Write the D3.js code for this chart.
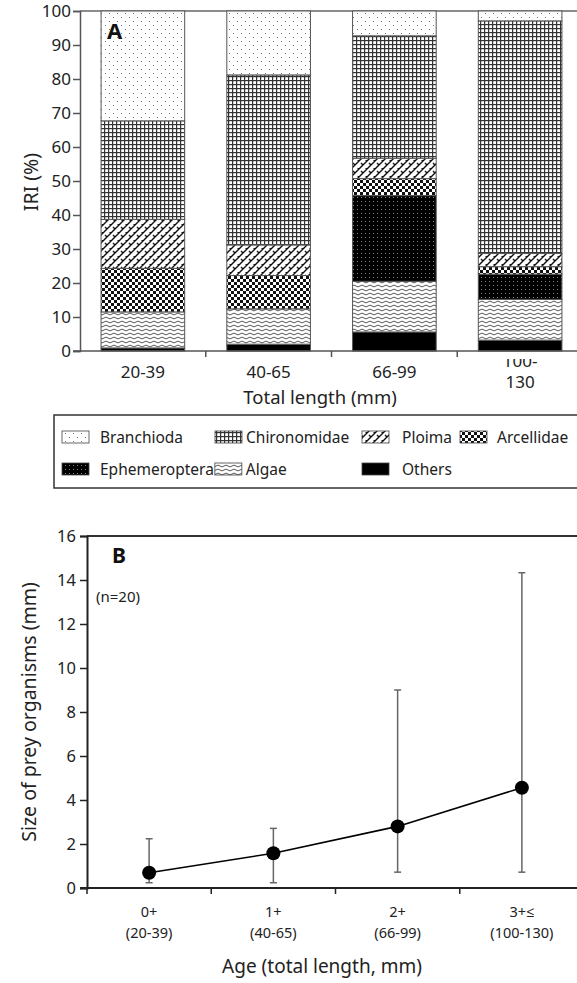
<!DOCTYPE html>
<html>
<head>
<meta charset="utf-8">
<script src="https://cdn.jsdelivr.net/npm/d3@7"></script>
<style>
  body { margin: 0; background: #fff; }
  svg { font-family: "Noto Sans", "Open Sans", sans-serif; }
</style>
</head>
<body>
<svg id="chart" width="577" height="983"></svg>
<script>
// --- data, panel A (IRI %, stacked from the bottom) ---
var lengthGroups = ["20-39", "40-65", "66-99", "100-130"];
var preyNames = ["Others", "Algae", "Ephemeroptera", "Arcellidae", "Ploima", "Chironomidae", "Branchioda"];
var others        = [0.9, 2.0, 5.6, 3.2];
var algae         = [10.6, 10.4, 14.9, 12.0];
var ephemeroptera = [0, 0, 25.2, 7.4];
var arcellidae    = [12.8, 9.8, 5.0, 2.2];
var ploima        = [14.4, 9.0, 6.0, 3.9];
var chironomidae  = [29.0, 50.0, 36.0, 68.4];
var branchioda    = [32.3, 18.8, 7.3, 2.9];
var iriTicks = [0, 10, 20, 30, 40, 50, 60, 70, 80, 90, 100];

// --- data, panel B (prey size by age) ---
var ageGroups = ["0+", "1+", "2+", "3+\u2264"];
var ageLengths = ["(20-39)", "(40-65)", "(66-99)", "(100-130)"];
var preySize = [0.69, 1.58, 2.80, 4.56];
var preySizeLow = [0.24, 0.24, 0.72, 0.72];
var preySizeHigh = [2.24, 2.71, 9.0, 14.33];
var sizeTicks = [0, 2, 4, 6, 8, 10, 12, 14, 16];

// legend rows as in the figure
var legendRow1 = ["Branchioda", "Chironomidae", "Ploima", "Arcellidae"];
var legendRow2 = ["Ephemeroptera", "Algae", "Others"];

var svg = d3.select("#chart");
var defs = svg.append("defs");

// ---------- fill patterns ----------
function pat(id, w, h) {
  var p = defs.append("pattern").attr("id", id).attr("patternUnits", "userSpaceOnUse")
    .attr("width", w).attr("height", h);
  return p;
}
var p;
p = pat("p-Branchioda", 8, 8);
p.append("rect").attr("width", 8).attr("height", 8).attr("fill", "#fff");
p.append("rect").attr("x", 1).attr("y", 1).attr("width", 1).attr("height", 1).attr("fill", "#777");
p.append("rect").attr("x", 5).attr("y", 5).attr("width", 1).attr("height", 1).attr("fill", "#777");

p = pat("p-Chironomidae", 4, 4);
p.append("rect").attr("width", 4).attr("height", 4).attr("fill", "#fff");
p.append("rect").attr("width", 4).attr("height", 1.2).attr("fill", "#333");
p.append("rect").attr("width", 1.2).attr("height", 4).attr("fill", "#333");

p = pat("p-Ploima", 8, 8);
p.append("rect").attr("width", 8).attr("height", 8).attr("fill", "#fff");
p.append("path").attr("d", "M0,8 L8,0 M-2,2 L2,-2 M6,10 L10,6 M1,3 L3,5 M5,-1 L7,1")
  .attr("stroke", "#111").attr("stroke-width", 1.4).attr("fill", "none");

p = pat("p-Arcellidae", 6, 6);
p.append("rect").attr("width", 6).attr("height", 6).attr("fill", "#fff");
p.append("rect").attr("width", 3).attr("height", 3).attr("fill", "#111");
p.append("rect").attr("x", 3).attr("y", 3).attr("width", 3).attr("height", 3).attr("fill", "#111");

p = pat("p-Ephemeroptera", 4, 4);
p.append("rect").attr("width", 4).attr("height", 4).attr("fill", "#000");
p.append("rect").attr("x", 1).attr("y", 1).attr("width", 1).attr("height", 1).attr("fill", "#888");

p = pat("p-Algae", 8, 4);
p.append("rect").attr("width", 8).attr("height", 4).attr("fill", "#fff");
p.append("path").attr("d", "M0,2 Q2,0.2 4,2 T8,2")
  .attr("stroke", "#444").attr("stroke-width", 0.9).attr("fill", "none");

p = pat("p-Others", 4, 4);
p.append("rect").attr("width", 4).attr("height", 4).attr("fill", "#000");

// ================= PANEL A =================
var seriesByName = {
  Others: others, Algae: algae, Ephemeroptera: ephemeroptera, Arcellidae: arcellidae,
  Ploima: ploima, Chironomidae: chironomidae, Branchioda: branchioda
};
var tableA = lengthGroups.map(function(g, i) {
  var row = { group: g };
  preyNames.forEach(function(n) { row[n] = seriesByName[n][i]; });
  return row;
});
var stackA = d3.stack().keys(preyNames)(tableA);

var xA = d3.scaleBand().domain(lengthGroups).range([80, 583]).paddingInner(0.335).paddingOuter(0.1675);
var xAedge = d3.scaleBand().domain(lengthGroups).range([80, 583]);
var yA = d3.scaleLinear().domain([0, 100]).range([351, 11]);

var gA = svg.append("g");

// frame top line
gA.append("line").attr("x1", 80).attr("x2", 577).attr("y1", yA(100)).attr("y2", yA(100))
  .attr("stroke", "#666").attr("stroke-width", 1.5);

gA.selectAll("g.layer").data(stackA).enter().append("g").attr("class", "layer")
  .attr("fill", function(d) { return "url(#p-" + d.key + ")"; })
  .selectAll("rect").data(function(d) { return d; }).enter().append("rect")
  .attr("x", function(d) { return xA(d.data.group); })
  .attr("width", xA.bandwidth())
  .attr("y", function(d) { return yA(d[1]); })
  .attr("height", function(d) { return yA(d[0]) - yA(d[1]); })
  .attr("stroke", "#555").attr("stroke-width", 1);

// y axis
var yAxisA = gA.append("g").attr("transform", "translate(80,0)")
  .call(d3.axisLeft(yA).tickValues(iriTicks).tickSize(7).tickPadding(2));
yAxisA.select(".domain").attr("stroke", "#555").attr("stroke-width", 1.5);
yAxisA.selectAll(".tick line").attr("stroke", "#555").attr("stroke-width", 1.5);
yAxisA.selectAll("text").attr("font-size", 17).attr("fill", "#222")
  .attr("font-family", "Noto Sans").attr("dy", "0.34em");

// x axis
gA.append("line").attr("x1", 73).attr("x2", 577).attr("y1", yA(0)).attr("y2", yA(0))
  .attr("stroke", "#555").attr("stroke-width", 1.5);
gA.selectAll("line.xt").data(lengthGroups.slice(1)).enter().append("line").attr("class", "xt")
  .attr("x1", function(d) { return xAedge(d); }).attr("x2", function(d) { return xAedge(d); })
  .attr("y1", yA(0)).attr("y2", yA(0) + 6).attr("stroke", "#555").attr("stroke-width", 1.5);

defs.append("clipPath").attr("id", "clipLab").append("rect")
  .attr("x", 0).attr("y", 359).attr("width", 577).attr("height", 60);
var labA = gA.append("g").attr("clip-path", "url(#clipLab)");
lengthGroups.forEach(function(g) {
  var cx = xA(g) + xA.bandwidth() / 2;
  var t = labA.append("text").attr("x", cx).attr("text-anchor", "middle")
    .attr("font-size", 17).attr("fill", "#222");
  if (g.length > 5) {
    var parts = g.split("-");
    t.append("tspan").attr("x", cx).attr("y", 367).text(parts[0] + "-");
    t.append("tspan").attr("x", cx).attr("y", 388).text(parts[1]);
  } else {
    t.attr("y", 378).text(g);
  }
});

gA.append("text").attr("x", 320).attr("y", 404).attr("text-anchor", "middle")
  .attr("font-size", 18.5).attr("fill", "#222").text("Total length (mm)");
gA.append("text").attr("transform", "translate(38,182) rotate(-90)").attr("text-anchor", "middle")
  .attr("font-size", 19.5).attr("fill", "#222").text("IRI (%)");
gA.append("text").attr("x", 107).attr("y", 39).attr("font-size", 22).attr("font-weight", "bold")
  .attr("fill", "#111").text("A");

// legend
var gL = svg.append("g");
gL.append("rect").attr("x", 54).attr("y", 415).attr("width", 540).attr("height", 73)
  .attr("fill", "none").attr("stroke", "#333").attr("stroke-width", 1.5);
function legendItem(name, x, y, gap) {
  gL.append("rect").attr("x", x).attr("y", y - 6).attr("width", 27).attr("height", 12)
    .attr("fill", "url(#p-" + name + ")").attr("stroke", "#444").attr("stroke-width", 0.8);
  var t = gL.append("text").attr("x", x + gap).attr("y", y + 5.5)
    .attr("font-size", 15.5).attr("fill", "#222").text(name);
  return x + gap + t.node().getComputedTextLength();
}
var row1x = [62, 215, 362, 460];
var row1gap = [38, 31, 40, 37];
legendRow1.forEach(function(n, i) { legendItem(n, row1x[i], 437, row1gap[i]); });
var endE = legendItem(legendRow2[0], 62, 469, 38);
legendItem(legendRow2[1], endE + 1, 469, 31);
legendItem(legendRow2[2], 362, 469, 40);

// ================= PANEL B =================
var xB = d3.scalePoint().domain(ageGroups).range([87, 584]).padding(0.5);
var xBedge = d3.scaleBand().domain(ageGroups).range([87, 584]);
var yB = d3.scaleLinear().domain([0, 16]).range([888, 536]);
var gB = svg.append("g");

gB.append("line").attr("x1", 87).attr("x2", 577).attr("y1", yB(16)).attr("y2", yB(16))
  .attr("stroke", "#333").attr("stroke-width", 2);

var yAxisB = gB.append("g").attr("transform", "translate(87,0)")
  .call(d3.axisLeft(yB).tickValues(sizeTicks).tickSize(7).tickPadding(4));
yAxisB.select(".domain").attr("stroke", "#222").attr("stroke-width", 2);
yAxisB.selectAll(".tick line").attr("stroke", "#222").attr("stroke-width", 1.5);
yAxisB.selectAll("text").attr("font-size", 16.5).attr("fill", "#222")
  .attr("font-family", "Noto Sans");

gB.append("line").attr("x1", 80).attr("x2", 577).attr("y1", yB(0)).attr("y2", yB(0))
  .attr("stroke", "#222").attr("stroke-width", 2);
gB.selectAll("line.xt").data(ageGroups).enter().append("line").attr("class", "xt")
  .attr("x1", function(d) { return xBedge(d); }).attr("x2", function(d) { return xBedge(d); })
  .attr("y1", yB(0)).attr("y2", yB(0) + 6).attr("stroke", "#222").attr("stroke-width", 1.5);

ageGroups.forEach(function(g, i) {
  var cx = xB(g);
  gB.append("text").attr("x", cx).attr("y", 917).attr("text-anchor", "middle")
    .attr("font-size", 14.5).attr("fill", "#222").text(g);
  gB.append("text").attr("x", cx).attr("y", 938).attr("text-anchor", "middle")
    .attr("font-size", 14.5).attr("fill", "#222").text(ageLengths[i]);
});

// error bars
ageGroups.forEach(function(g, i) {
  var cx = xB(g);
  gB.append("line").attr("x1", cx).attr("x2", cx).attr("y1", yB(preySizeLow[i])).attr("y2", yB(preySizeHigh[i]))
    .attr("stroke", "#666").attr("stroke-width", 1.5);
  [preySizeLow[i], preySizeHigh[i]].forEach(function(v) {
    gB.append("line").attr("x1", cx - 3.5).attr("x2", cx + 3.5).attr("y1", yB(v)).attr("y2", yB(v))
      .attr("stroke", "#666").attr("stroke-width", 1.5);
  });
});

var line = d3.line().x(function(d, i) { return xB(ageGroups[i]); }).y(function(d) { return yB(d); });
gB.append("path").datum(preySize).attr("d", line).attr("fill", "none")
  .attr("stroke", "#000").attr("stroke-width", 1.6);
gB.selectAll("circle").data(preySize).enter().append("circle")
  .attr("cx", function(d, i) { return xB(ageGroups[i]); }).attr("cy", function(d) { return yB(d); })
  .attr("r", 7).attr("fill", "#000");

gB.append("text").attr("x", 322).attr("y", 973).attr("text-anchor", "middle")
  .attr("font-size", 19).attr("fill", "#222").text("Age (total length, mm)");
gB.append("text").attr("transform", "translate(36,712) rotate(-90)").attr("text-anchor", "middle")
  .attr("font-size", 19.5).attr("fill", "#222").text("Size of prey organisms (mm)");
gB.append("text").attr("x", 112).attr("y", 563).attr("font-size", 21).attr("font-weight", "bold")
  .attr("fill", "#111").text("B");
gB.append("text").attr("x", 96).attr("y", 602).attr("font-size", 15).attr("fill", "#222").text("(n=20)");
</script>
</body>
</html>
